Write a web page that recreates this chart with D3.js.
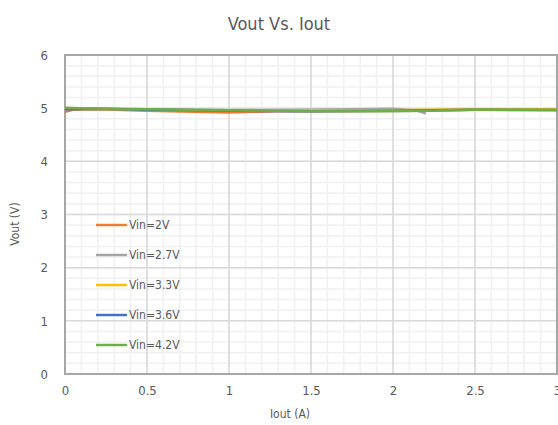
<!DOCTYPE html>
<html>
<head>
<meta charset="utf-8">
<script src="https://cdn.jsdelivr.net/npm/d3@7"></script>
<style>
  body { margin: 0; background: #fff; }
  svg text { font-family: "DejaVu Sans Condensed", "DejaVu Sans", sans-serif; font-stretch: condensed; fill: #595959; }
</style>
</head>
<body>
<div id="chart"></div>
<script>
// series names and colours (Excel default palette)
const seriesNames = ['Vin=2V', 'Vin=2.7V', 'Vin=3.3V', 'Vin=3.6V', 'Vin=4.2V'];
const seriesColors = ['#ED7D31', '#A5A5A5', '#FFC000', '#4472C4', '#70AD47'];

// [Iout, Vout]
const vin2 = [[0, 4.93], [0.05, 4.97], [0.2, 4.98], [0.5, 4.95], [1.0, 4.92], [1.3, 4.94], [1.5, 4.94], [2.0, 4.95], [2.5, 4.97], [3.0, 4.97]];
const vin27 = [[0, 4.99], [0.2, 4.99], [0.5, 4.98], [1.0, 4.96], [1.5, 4.97], [2.0, 4.99], [2.15, 4.95], [2.2, 4.9]];
const vin33 = [[0, 5.0], [0.5, 4.97], [1.0, 4.95], [1.5, 4.95], [2.0, 4.96], [2.5, 4.98], [3.0, 4.97]];
const vin36 = [[0, 4.98], [0.2, 4.99], [0.5, 4.97], [1.0, 4.95], [1.5, 4.94], [2.0, 4.95], [2.5, 4.97], [3.0, 4.96]];
const vin42 = [[0, 5.01], [0.2, 4.99], [0.5, 4.98], [1.0, 4.96], [1.5, 4.94], [2.0, 4.94], [2.2, 4.95], [2.5, 4.97], [3.0, 4.97]];
const seriesData = [vin2, vin27, vin33, vin36, vin42];

const xTicks = [0, 0.5, 1, 1.5, 2, 2.5, 3];
const yTicks = [0, 1, 2, 3, 4, 5, 6];

const W = 558, H = 425;
const margin = { top: 55, right: 1, bottom: 51, left: 65 };
const width = W - margin.left - margin.right;
const height = H - margin.top - margin.bottom;

const svg = d3.select('#chart').append('svg')
  .attr('width', W).attr('height', H);

const g = svg.append('g')
  .attr('transform', `translate(${margin.left},${margin.top})`);

const x = d3.scaleLinear().domain([0, 3]).range([0, width]);
const y = d3.scaleLinear().domain([0, 6]).range([height, 0]);

// minor grid
const xMinor = d3.range(0, 3.0001, 0.1);
const yMinor = d3.range(0, 6.0001, 0.2);
g.append('g').selectAll('line').data(xMinor).join('line')
  .attr('x1', d => x(d)).attr('x2', d => x(d))
  .attr('y1', 0).attr('y2', height)
  .attr('stroke', '#f0f0f0').attr('stroke-width', 1.5);
g.append('g').selectAll('line').data(yMinor).join('line')
  .attr('y1', d => y(d)).attr('y2', d => y(d))
  .attr('x1', 0).attr('x2', width)
  .attr('stroke', '#f0f0f0').attr('stroke-width', 1.5);

// major grid
g.append('g').selectAll('line').data(xTicks).join('line')
  .attr('x1', d => x(d)).attr('x2', d => x(d))
  .attr('y1', 0).attr('y2', height)
  .attr('stroke', '#d9d9d9').attr('stroke-width', 1.5);
g.append('g').selectAll('line').data(yTicks).join('line')
  .attr('y1', d => y(d)).attr('y2', d => y(d))
  .attr('x1', 0).attr('x2', width)
  .attr('stroke', '#d9d9d9').attr('stroke-width', 1.5);

// plot border
g.append('rect')
  .attr('width', width).attr('height', height)
  .attr('fill', 'none').attr('stroke', '#a6a6a6').attr('stroke-width', 2);

// axes (labels only)
const fmt = d3.format('');
const xAxis = g.append('g')
  .attr('transform', `translate(0,${height})`)
  .call(d3.axisBottom(x).tickValues(xTicks).tickSize(0).tickPadding(12).tickFormat(fmt));
const yAxis = g.append('g')
  .call(d3.axisLeft(y).tickValues(yTicks).tickSize(0).tickPadding(17).tickFormat(fmt));
[xAxis, yAxis].forEach(a => {
  a.select('.domain').remove();
  a.attr('font-family', null).attr('font-size', null);
  a.selectAll('text').style('font-size', '13px').attr('fill', '#595959');
});

// lines
const line = d3.line().x(d => x(d[0])).y(d => y(d[1]));
g.append('g').selectAll('path').data(seriesData).join('path')
  .attr('d', line)
  .attr('fill', 'none')
  .attr('stroke', (d, i) => seriesColors[i])
  .attr('stroke-width', 2.5)
  .attr('stroke-linejoin', 'round');

// legend
const legend = g.append('g').attr('transform', `translate(${96 - margin.left},${225 - margin.top})`);
const items = legend.selectAll('g').data(seriesNames).join('g')
  .attr('transform', (d, i) => `translate(0,${i * 30})`);
items.append('line')
  .attr('x1', 0).attr('x2', 31)
  .attr('stroke', (d, i) => seriesColors[i]).attr('stroke-width', 2.5);
items.append('text')
  .attr('x', 33).attr('dy', '0.35em')
  .style('font-size', '12px')
  .text(d => d);

// titles
svg.append('text')
  .attr('x', 279).attr('y', 30)
  .attr('text-anchor', 'middle')
  .style('font-size', '18px')
  .text('Vout Vs. Iout');
svg.append('text')
  .attr('x', 290).attr('y', 418)
  .attr('text-anchor', 'middle')
  .style('font-size', '12px')
  .text('Iout (A)');
svg.append('text')
  .attr('transform', 'translate(19,224) rotate(-90)')
  .attr('text-anchor', 'middle')
  .style('font-size', '12px')
  .text('Vout (V)');
</script>
</body>
</html>
